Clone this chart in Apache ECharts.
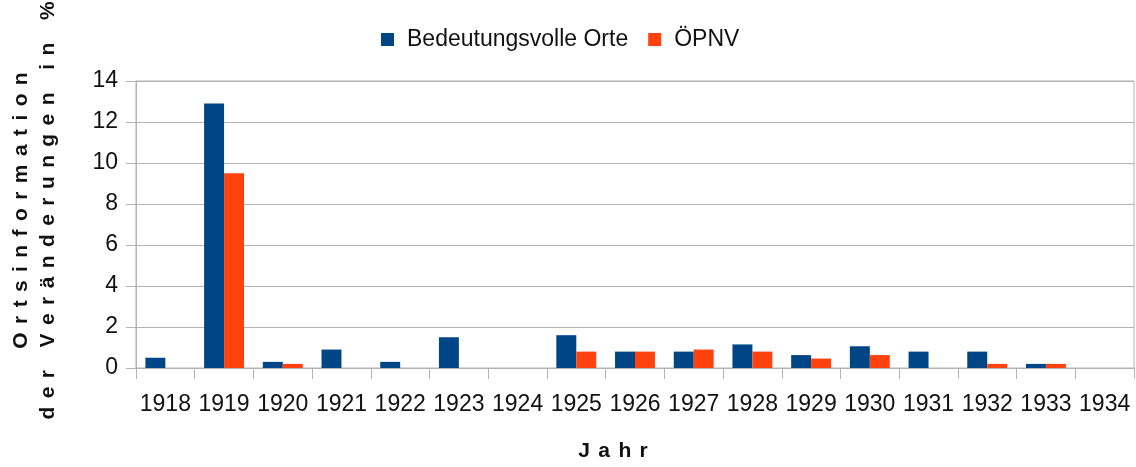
<!DOCTYPE html>
<html>
<head>
<meta charset="utf-8">
<script src="https://cdn.jsdelivr.net/npm/echarts@6/dist/echarts.min.js"></script>
<style>
    html, body {margin: 0; padding: 0; background: #fff;}
    #chartDiv {width: 1136px; height: 467px;}
</style>
</head>
<body>
<div id="chartDiv"></div>
<script>
    var years = ['1918', '1919', '1920', '1921', '1922', '1923', '1924', '1925', '1926',
        '1927', '1928', '1929', '1930', '1931', '1932', '1933', '1934'];
    var orteValues = [0.5, 12.9, 0.3, 0.9, 0.3, 1.5, 0, 1.6, 0.8, 0.8, 1.15, 0.63, 1.06, 0.8, 0.8, 0.2, 0];
    var oepnvValues = [0, 9.5, 0.2, 0, 0, 0, 0, 0.8, 0.8, 0.9, 0.8, 0.46, 0.63, 0, 0.2, 0.2, 0];
    var seriesNames = ['Bedeutungsvolle Orte', 'ÖPNV'];
    var yTitleLines = ['Ortsinformation', 'der Veränderungen in %'];
    var xTitle = 'Jahr';

    // spread letters out like the original's expanded text
    function spaced(text, gap) {
        return text.split(' ').map(function (word) {
            return word.split('').join(gap);
        }).join(gap + ' ' + gap);
    }

    var fontFamily = '"Liberation Sans", Arial, sans-serif';
    var gridColor = '#b3b3b3';

    var chart = echarts.init(document.getElementById('chartDiv'), null, {renderer: 'canvas'});
    var option = {
        animation: false,
        color: ['#004586', '#ff420e'],
        textStyle: {fontFamily: fontFamily},
        legend: {
            data: seriesNames,
            left: 376,
            top: 23,
            icon: 'rect',
            itemWidth: 13,
            itemHeight: 13,
            itemGap: 20,
            selectedMode: false,
            textStyle: {fontSize: 23, color: '#111', fontFamily: fontFamily, padding: [0, 0, 0, 8]}
        },
        grid: {
            left: 134,
            right: 2,
            top: 81,
            bottom: 93,
            show: true,
            borderColor: gridColor,
            borderWidth: 1
        },
        xAxis: {
            type: 'category',
            data: years,
            name: spaced(xTitle, '\u2009\u2009'),
            nameLocation: 'middle',
            nameGap: 73,
            nameTextStyle: {fontSize: 21, fontWeight: 'bold', color: '#111', fontFamily: fontFamily, padding: [0, 44, 0, 0]},
            axisLine: {lineStyle: {color: gridColor}},
            axisTick: {show: true, length: 11, lineStyle: {color: gridColor}},
            axisLabel: {fontSize: 23, color: '#111', margin: 25, interval: 0}
        },
        yAxis: {
            type: 'value',
            min: 0,
            max: 14,
            interval: 2,
            name: yTitleLines.map(function (s) {
                return spaced(s, '\u2009\u2009');
            }).join('\n'),
            nameLocation: 'middle',
            nameRotate: 90,
            nameGap: 74,
            nameTextStyle: {fontSize: 21, fontWeight: 'bold', color: '#111', fontFamily: fontFamily, lineHeight: 27, padding: [0, 0, 0, 28]},
            axisLine: {show: true, lineStyle: {color: gridColor}},
            axisTick: {show: true, length: 10, lineStyle: {color: gridColor}},
            axisLabel: {fontSize: 23, color: '#111', margin: 18},
            splitLine: {lineStyle: {color: gridColor}}
        },
        series: [
            {
                name: seriesNames[0],
                type: 'bar',
                barGap: 0,
                barCategoryGap: '32%',
                emphasis: {disabled: true},
                data: orteValues
            },
            {
                name: seriesNames[1],
                type: 'bar',
                barGap: 0,
                barCategoryGap: '32%',
                emphasis: {disabled: true},
                data: oepnvValues
            }
        ]
    };
    chart.setOption(option);
</script>
</body>
</html>
